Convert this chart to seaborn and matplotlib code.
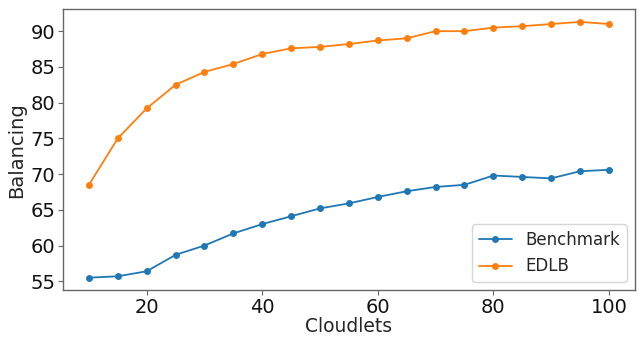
import numpy as np
import pandas as pd
import matplotlib
matplotlib.use("Agg")
import matplotlib.pyplot as plt
import seaborn as sns

cloudlets = [10, 15, 20, 25, 30, 35, 40, 45, 50, 55, 60, 65, 70, 75, 80, 85, 90, 95, 100]
benchmark = [55.5, 55.7, 56.4, 58.7, 60.0, 61.7, 63.0, 64.1, 65.2, 65.9, 66.8, 67.6, 68.2, 68.5,
             69.8, 69.6, 69.4, 70.4, 70.6]
edlb = [68.5, 75.0, 79.2, 82.5, 84.3, 85.4, 86.8, 87.6, 87.8, 88.2, 88.7, 89.0, 90.0, 90.0,
        90.5, 90.7, 91.0, 91.3, 91.0]
series_names = ["Benchmark", "EDLB"]

df = pd.concat([
    pd.DataFrame({"Cloudlets": cloudlets, "Balancing": benchmark, "Method": series_names[0]}),
    pd.DataFrame({"Cloudlets": cloudlets, "Balancing": edlb, "Method": series_names[1]}),
])

sns.set_style("ticks")
plt.rcParams["font.family"] = ["DejaVu Sans"]

fig, ax = plt.subplots(figsize=(6.42, 3.37), dpi=100)
sns.lineplot(data=df, x="Cloudlets", y="Balancing", hue="Method",
             palette=["#1f77b4", "#ff7f0e"], marker="o", markersize=5,
             markeredgewidth=0, linewidth=1.3, ax=ax)

ax.set_xticks([20, 40, 60, 80, 100])
ax.set_yticks([55, 60, 65, 70, 75, 80, 85, 90])
ax.tick_params(labelsize=14, length=3.5, width=0.8, pad=2, colors="#111111")
ax.tick_params(axis="both", color="#666666")
ax.set_xlabel("Cloudlets", fontsize=13.5, labelpad=0)
ax.set_ylabel("Balancing", fontsize=14, labelpad=3)
for s in ax.spines.values():
    s.set_color("#666666")
    s.set_linewidth(1.0)

leg = ax.legend(loc="lower right", fontsize=12, title=None)

fig.subplots_adjust(left=0.098, right=0.989, top=0.973, bottom=0.138)
fig.savefig("out.png", dpi=100)
